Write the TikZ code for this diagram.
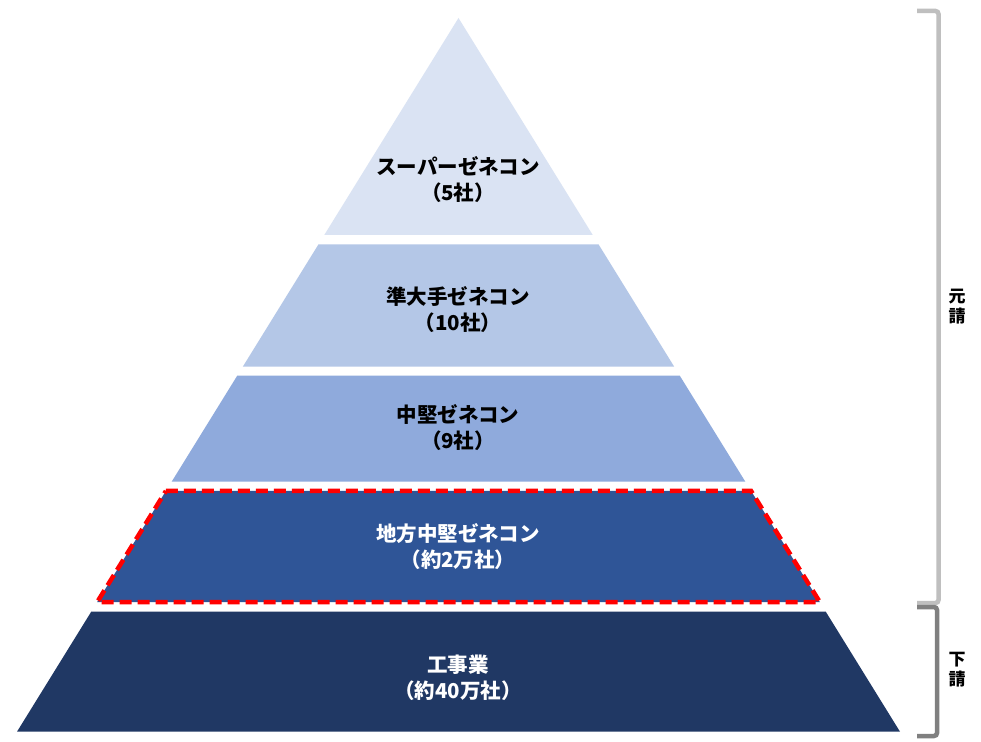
\documentclass[tikz,border=0pt]{standalone}
\usepackage{fontspec}
\newfontfamily\jp{Noto Sans CJK JP}
\usetikzlibrary{calc}
\definecolor{cA}{HTML}{DAE3F3}
\definecolor{cB}{HTML}{B4C7E7}
\definecolor{cC}{HTML}{8FAADC}
\definecolor{cD}{HTML}{2F5597}
\definecolor{cE}{HTML}{203864}
\definecolor{brA}{HTML}{BFBFBF}
\definecolor{brB}{HTML}{808080}
\newcommand{\pband}[3]{%
  \fill[#3] ($(A)!#1!(BL)$) -- ($(A)!#1!(BR)$) -- ($(A)!#2!(BR)$) -- ($(A)!#2!(BL)$) -- cycle;}
\begin{document}
\begin{tikzpicture}[x=1pt,y=-1pt,
  lbl/.style={font=\jp\bfseries\fontsize{20.5}{26}\selectfont, align=center, inner sep=0pt},
  side/.style={font=\jp\bfseries\fontsize{17}{20}\selectfont, align=center, inner sep=0pt},
  brk/.style={line width=4.5pt, rounded corners=3pt}]
\useasboundingbox (0,0) rectangle (981,741);
\fill[white] (0,0) rectangle (981,741);
\coordinate (A) at (458.5,18);
\coordinate (BL) at (17,731.7);
\coordinate (BR) at (900,731.7);
\pband{0}{0.3040}{cA}
\pband{0.3171}{0.4886}{cB}
\pband{0.5012}{0.6497}{cC}
\pband{0.6627}{0.8183}{cD}
\pband{0.8319}{1}{cE}
\draw[red, line width=4.5pt, dash pattern=on 12pt off 6pt]
  ($(A)!0.6627!(BL)$) -- ($(A)!0.6627!(BR)$) -- ($(A)!0.8183!(BR)$) -- ($(A)!0.8183!(BL)$) -- cycle;
\node[lbl] (l1) at (458,180) {スーパーゼネコン\\（5社）};
\node[lbl] (l2) at (458,310) {準大手ゼネコン\\（10社）};
\node[lbl] (l3) at (458,428) {中堅ゼネコン\\（9社）};
\node[lbl, text=white] (l4) at (458,547) {地方中堅ゼネコン\\（約2万社）};
\node[lbl, text=white] (l5) at (458,678) {工事業\\（約40万社）};
\draw[brk, brA] (917,11) -- (938.5,11) -- (938.5,603) -- (917,603);
\draw[brk, brB] (917,607) -- (937,607) -- (937,736) -- (917,736);
\node[side] (s1) at (957,307) {元\\請};
\node[side] (s2) at (957,670) {下\\請};
\end{tikzpicture}
\end{document}
